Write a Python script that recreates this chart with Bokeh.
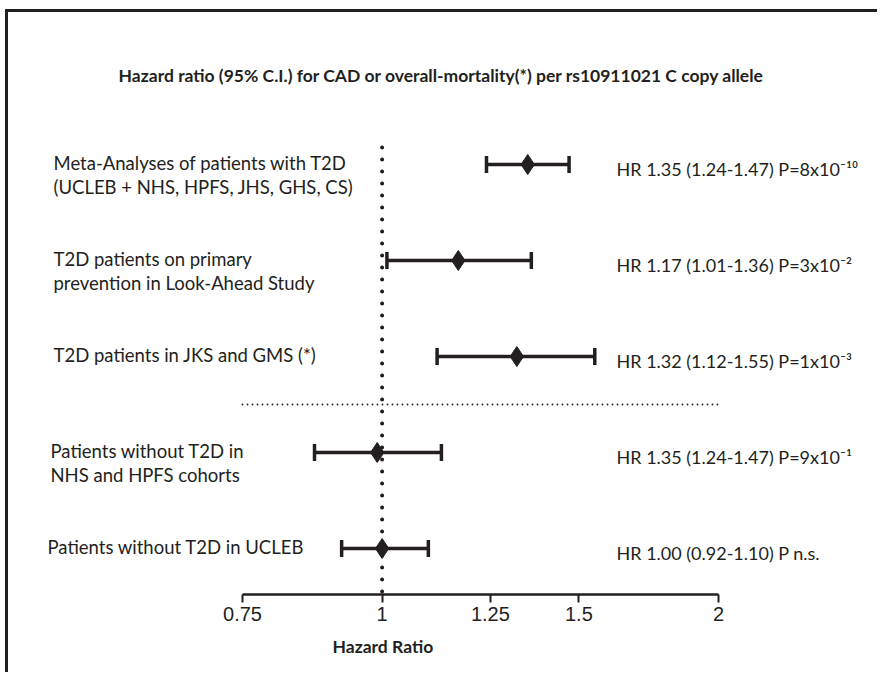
import math
from bokeh.plotting import figure
from bokeh.models import Range1d, FixedTicker, ColumnDataSource, Label, Title
from bokeh.core.properties import value
from bokeh.embed import file_html
from bokeh.resources import INLINE

# ---------------- data ----------------
labels = [
    "Meta-Analyses of patients with T2D\n(UCLEB + NHS, HPFS, JHS, GHS, CS)",
    "T2D patients on primary\nprevention in Look-Ahead Study",
    "T2D patients in JKS and GMS (*)",
    "Patients without T2D in\nNHS and HPFS cohorts",
    "Patients without T2D in UCLEB",
]
hr = [1.35, 1.17, 1.32, 0.99, 1.00]
ci_low = [1.24, 1.01, 1.12, 0.87, 0.92]
ci_high = [1.47, 1.36, 1.55, 1.13, 1.10]
annotations = [
    "HR 1.35 (1.24-1.47) P=8x10\u207b\u00b9\u2070",
    "HR 1.17 (1.01-1.36) P=3x10\u207b\u00b2",
    "HR 1.32 (1.12-1.55) P=1x10\u207b\u00b3",
    "HR 1.35 (1.24-1.47) P=9x10\u207b\u00b9",
    "HR 1.00 (0.92-1.10) P n.s.",
]
tick_values = [0.75, 1, 1.25, 1.5, 2]
tick_labels = ["0.75", "1", "1.25", "1.5", "2"]
null_value = 1
title_text = "Hazard ratio (95% C.I.) for CAD or overall-mortality(*) per rs10911021 C copy allele"
x_title = "Hazard Ratio"

# ---------------- layout ----------------
INK = "#231f20"
W, H = 872, 663
ORG_X, ORG_Y = 8, 12          # page offset of the canvas (margin + border)
X1_PX, PX_PER_LN = 381.6, 485.3
ROW0_PX, ROW_STEP = 164.0, 96.0
AXIS_PX = 594


def px2x(px):
    return math.exp((px - X1_PX) / PX_PER_LN)


def py2y(py):
    return (py - ROW0_PX) / ROW_STEP


rows = list(range(len(labels)))
label_px = [53, 53, 53, 50, 47]

src = ColumnDataSource(dict(
    row=rows, hr=hr, lo=ci_low, hi=ci_high, label=labels, ann=annotations,
    lx=[px2x(v) for v in label_px], ax=[px2x(616)] * len(rows),
))

p = figure(
    width=W, height=H, output_backend="svg", toolbar_location=None,
    x_axis_type="log", y_axis_location=None,
    x_range=Range1d(px2x(ORG_X), px2x(ORG_X + W)),
    y_range=Range1d(py2y(AXIS_PX), py2y(ORG_Y)),
    min_border_left=0, min_border_right=0, min_border_top=0,
    min_border_bottom=(ORG_Y + H) - AXIS_PX,
)
p.styles = {
    "margin-top": "9px", "margin-left": "5px",
    "border-top": f"3px solid {INK}", "border-left": f"3px solid {INK}",
}
p.outline_line_color = None
p.xgrid.visible = False
p.ygrid.visible = False
p.background_fill_color = "white"
p.border_fill_color = "white"

ax = p.xaxis[0]
ax.ticker = FixedTicker(ticks=tick_values)
ax.major_label_overrides = {k: v for k, v in zip(tick_values, tick_labels)}
ax.bounds = (tick_values[0], tick_values[-1])
ax.axis_line_color = INK
ax.axis_line_width = 2.5
ax.major_tick_line_color = INK
ax.major_tick_line_width = 2
ax.major_tick_out = 8
ax.major_tick_in = 0
ax.minor_tick_line_color = None
ax.major_label_text_font = "Liberation Sans"
ax.major_label_text_font_size = "20px"
ax.major_label_text_color = INK
ax.major_label_standoff = 4

# x-axis title, placed under HR = 1 like the reference
p.add_layout(Title(text=x_title, align="left", offset=324,
                   text_font="Lato", text_font_style="bold", text_font_size="17.5px",
                   text_color=INK, standoff=21), "below")

# reference line at HR = 1
p.segment(x0=[null_value], y0=[py2y(147)], x1=[null_value], y1=[py2y(AXIS_PX)],
          line_color=INK, line_width=4, line_dash="0 12", line_cap="round")
# separator between the diabetic and non-diabetic groups
p.segment(x0=[tick_values[0]], y0=[2.5], x1=[tick_values[-1]], y1=[2.5],
          line_color=INK, line_width=1.8, line_dash="0 5", line_cap="round")

# confidence intervals
p.segment(x0="lo", y0="row", x1="hi", y1="row", source=src, line_color=INK, line_width=3.5)
p.scatter(x="lo", y="row", source=src, marker="dash", angle=math.pi / 2, size=17,
          line_color=INK, line_width=3.5)
p.scatter(x="hi", y="row", source=src, marker="dash", angle=math.pi / 2, size=17,
          line_color=INK, line_width=3.5)
p.scatter(x="hr", y="row", source=src, marker="diamond", size=20,
          fill_color=INK, line_color=INK)

# texts
p.text(x="lx", y="row", text="label", source=src, text_font=value("Lato"),
       text_font_size="18.5px", text_color=INK, text_align="left",
       text_baseline="top", y_offset=-13, text_line_height=1.1)
p.text(x="ax", y="row", text="ann", source=src, text_font=value("Lato"),
       text_font_size="18px", text_color=INK, text_align="left",
       text_baseline="middle", y_offset=4)

p.add_layout(Label(x=px2x(441), y=py2y(75), text=title_text, text_font="Lato",
                   text_font_style="bold", text_font_size="17.5px", text_color=INK,
                   text_align="center", text_baseline="middle"))

open("out.html", "w").write(file_html(p, INLINE))
